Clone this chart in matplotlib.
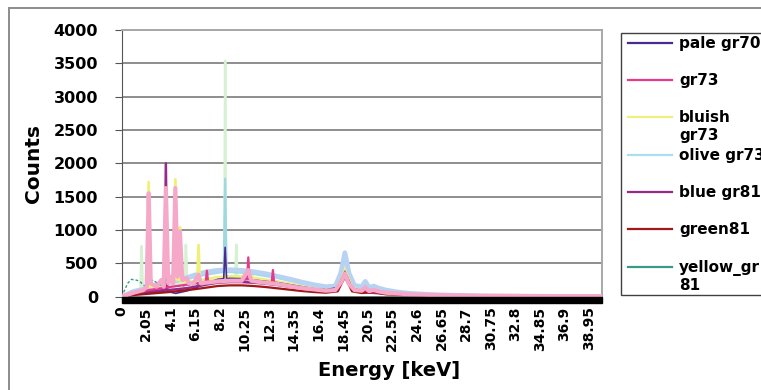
import matplotlib
matplotlib.use('Agg')
from matplotlib import pyplot as plt
from matplotlib.patches import Rectangle
from matplotlib.lines import Line2D

# tick labels of the category axis
tickPos = [0, 2.05, 4.1, 6.15, 8.2, 10.25, 12.3, 14.35, 16.4, 18.45, 20.5,
           22.55, 24.6, 26.65, 28.7, 30.75, 32.8, 34.85, 36.9, 38.95]
tickLabels = ['0', '2.05', '4.1', '6.15', '8.2', '10.25', '12.3', '14.35', '16.4', '18.45',
              '20.5', '22.55', '24.6', '26.65', '28.7', '30.75', '32.8', '34.85', '36.9', '38.95']

# pale gr70
e_pale = [0, 1, 2, 3, 3.6, 3.68, 3.76, 4.5, 5.5, 6.4, 7, 8, 8.5, 8.62, 8.74, 9, 10, 11, 12, 13, 14,
          15, 16, 17, 18, 18.6, 19.2, 20, 22, 24, 26, 30, 35, 40]
c_pale = [0, 40, 60, 70, 80, 520, 80, 50, 90, 150, 200, 260, 270, 740, 270, 275, 270, 250, 230,
          210, 180, 150, 120, 100, 140, 380, 130, 90, 60, 35, 20, 10, 5, 3]

# gr73
e_gr73 = [0, 1, 2, 3, 5, 7, 7.1, 7.2, 8, 9, 10, 10.45, 10.55, 10.65, 11, 12, 12.5, 12.6, 12.7,
          13, 14, 15, 16, 17, 18, 18.6, 19.2, 20, 22, 25, 30, 40]
c_gr73 = [0, 50, 90, 120, 170, 220, 390, 220, 240, 250, 250, 260, 590, 260, 240, 220, 210, 400,
          210, 190, 160, 130, 110, 90, 110, 340, 110, 80, 50, 25, 12, 6]

# bluish gr73
e_bluish = [0, 1, 2, 2.12, 2.25, 2.38, 3, 4.0, 4.35, 4.47, 4.59, 4.74, 4.85, 4.96, 5.5, 6.0, 6.3,
            6.4, 6.5, 7, 8, 9, 10, 10.55, 11, 12, 13, 14, 15, 16, 17, 18, 18.6, 19.2, 20, 22, 25, 30, 40]
c_bluish = [0, 50, 100, 150, 1720, 150, 130, 200, 250, 1760, 260, 250, 1040, 230, 220, 230, 240,
            775, 240, 260, 290, 300, 300, 350, 280, 250, 220, 190, 150, 120, 100, 120, 400, 140,
            80, 50, 25, 10, 5]

# olive gr73
e_olive = [0, 1, 2, 2.12, 2.25, 2.38, 3, 4, 5, 6, 7, 8, 8.5, 8.62, 8.74, 9, 10, 11, 12, 13, 14, 15,
           16, 17, 18, 18.6, 19.2, 20, 20.3, 20.6, 22, 24, 26, 30, 35, 40]
c_olive = [0, 70, 110, 150, 1150, 150, 160, 200, 240, 290, 330, 360, 370, 1770, 370, 370, 360,
           340, 310, 280, 240, 200, 160, 130, 150, 600, 150, 130, 200, 120, 80, 45, 28, 12, 6, 3]

# blue gr81
e_blue = [0, 1, 2, 3, 3.56, 3.68, 3.8, 4.5, 5.5, 6.4, 7, 8, 9, 10, 11, 12, 13, 14, 15, 16, 17, 18,
          18.6, 19.2, 20, 22, 25, 30, 40]
c_blue = [0, 40, 70, 90, 100, 2000, 100, 110, 130, 160, 180, 210, 220, 220, 210, 195, 175, 150,
          125, 105, 85, 100, 330, 100, 70, 45, 22, 10, 5]

# green81
e_green81 = [0, 1, 2, 3, 4, 5, 6, 7, 8, 9, 10, 11, 12, 13, 14, 15, 16, 17, 18, 18.6, 19.2, 20,
             21, 22, 25, 30, 40]
c_green81 = [0, 25, 40, 55, 70, 90, 110, 135, 160, 170, 170, 160, 145, 125, 105, 85, 70, 60, 80,
             300, 80, 55, 70, 35, 18, 8, 4]

# yellow_gr81
e_ygr = [0, 0.3, 0.5, 0.8, 1.2, 1.5, 1.8, 2.0, 2.6, 3.0, 3.4, 4, 5, 6, 7, 8, 9, 10, 12, 14, 16,
         18, 18.6, 19.2, 20, 22, 25, 30, 40]
c_ygr = [0, 120, 200, 260, 250, 230, 180, 150, 250, 200, 160, 150, 160, 180, 200, 220, 230, 230,
         210, 170, 120, 110, 280, 110, 70, 45, 22, 10, 5]

# unlabelled series
e_lgreen = [0, 1, 1.56, 1.66, 1.76, 2, 3, 4, 5.25, 5.35, 5.45, 6, 7, 8, 8.55, 8.62, 8.69, 9, 9.47,
            9.55, 9.63, 10, 12, 14, 16, 18, 18.6, 19.2, 20, 22, 25, 30, 40]
c_lgreen = [0, 60, 90, 760, 100, 110, 140, 170, 200, 780, 210, 230, 260, 290, 300, 3540, 300, 310,
            310, 780, 310, 300, 260, 200, 140, 130, 500, 130, 100, 60, 30, 12, 5]

e_lblue = [0, 0.5, 1, 2, 3, 4, 5, 6, 7, 8, 9, 10, 11, 12, 13, 14, 15, 16, 17, 17.8, 18.25, 18.6,
           18.95, 19.4, 20.0, 20.3, 20.6, 21.0, 21.4, 22, 23, 24, 26, 28, 30, 35, 40]
c_lblue = [0, 40, 80, 120, 180, 220, 260, 320, 370, 395, 405, 395, 375, 345, 305, 265, 220, 180,
           150, 160, 350, 660, 350, 170, 150, 230, 140, 160, 130, 100, 70, 50, 30, 20, 10, 5, 3]

e_lpink = [0, 1, 1.8, 2.08, 2.25, 2.42, 2.9, 3.3, 3.5, 3.68, 3.88, 4.1, 4.28, 4.47, 4.66, 4.85, 5.05,
           5.4, 5.6, 6.0, 6.4, 6.6, 7, 8, 9, 10, 10.55, 10.8, 11.5, 13, 14, 15, 16, 17, 17.8, 18.3,
           18.6, 18.9, 19.4, 20.0, 20.3, 20.6, 21.0, 21.4, 22, 24, 26, 30, 35, 40]
c_lpink = [0, 60, 100, 150, 1550, 200, 150, 250, 150, 1630, 200, 300, 200, 1630, 300, 980, 250, 280,
           200, 200, 330, 200, 210, 230, 240, 240, 400, 240, 220, 190, 160, 130, 110, 90, 100, 220,
           350, 200, 100, 90, 140, 85, 100, 80, 60, 35, 25, 15, 10, 8]

if __name__ == '__main__':
    plt.rcParams['font.family'] = 'DejaVu Sans'
    plt.rcParams['font.weight'] = 'bold'

    fig = plt.figure(figsize=(7.61, 3.90), dpi=100)
    ax = fig.add_axes([121.7 / 761, 1 - 296.7 / 390, 480 / 761, 266.7 / 390])

    ax.plot(e_lgreen, c_lgreen, color='#d6f0d2', lw=1.8, zorder=2)
    ax.plot(e_olive, c_olive, color='#9ed8e0', lw=1.6, zorder=3)
    ax.plot(e_lblue, c_lblue, color='#b8d2f2', lw=3.4, zorder=3)
    ax.plot(e_bluish, c_bluish, color='#eef07a', lw=2.0, zorder=4)
    ax.plot(e_pale, c_pale, color='#4a2a90', lw=1.2, zorder=4)
    ax.plot(e_ygr, c_ygr, color='#3a9a8a', lw=1.0, ls=(0, (2, 1.5)), zorder=4)
    ax.plot(e_blue, c_blue, color='#962a8a', lw=1.8, zorder=5)
    ax.plot(e_gr73, c_gr73, color='#e8388a', lw=1.6, zorder=5)
    ax.plot(e_lpink, c_lpink, color='#f5a8c8', lw=3.0, zorder=6)
    ax.plot(e_green81, c_green81, color='#a01818', lw=1.6, zorder=5)

    ax.set_xlim(0, 40)
    ax.set_ylim(0, 4000)
    ax.set_yticks(range(0, 4001, 500))
    ax.set_xticks(tickPos)
    ax.set_xticklabels(tickLabels, rotation=90, fontsize=10, fontweight='bold')
    ax.tick_params(axis='x', length=0, pad=7)
    ax.tick_params(axis='y', length=5, pad=12, labelsize=11.5, color='#555555')
    ax.grid(axis='y', color='#7a7a7a', lw=1.2)
    ax.set_axisbelow(True)
    for side in ['top', 'right']:
        ax.spines[side].set_color('#a8a8a8')
        ax.spines[side].set_linewidth(1.4)
    ax.spines['left'].set_color('#555555')
    ax.spines['bottom'].set_visible(False)

    # dense category tick marks look like a black band
    ax.add_patch(Rectangle((0, -6 / 266.7), 1, 6 / 266.7, transform=ax.transAxes,
                           color='black', clip_on=False, zorder=7))

    fig.text(33 / 761, 1 - 163 / 390, 'Counts', rotation=90, ha='center', va='center',
             fontsize=14.5, fontweight='bold')
    fig.text(389 / 761, 1 - 371 / 390, 'Energy [keV]', ha='center', va='center',
             fontsize=14, fontweight='bold')

    # outer chart frame
    fig.add_artist(Rectangle((9 / 761, -0.1), 1.2, 1 - 8 / 390 + 0.1, transform=fig.transFigure,
                             fill=False, edgecolor='#8c8c8c', lw=1.4))

    # legend drawn by hand (clipped by the image edge like the original)
    names = ['pale gr70', 'gr73', 'bluish\ngr73', 'olive gr73', 'blue gr81', 'green81', 'yellow_gr\n81']
    colors = ['#4a2a90', '#e8388a', '#eef07a', '#a8e0f0', '#962a8a', '#a01818', '#3a9a8a']
    fig.add_artist(Rectangle((621 / 761, 1 - 295 / 390), 0.5, 262 / 390, transform=fig.transFigure,
                             facecolor='white', edgecolor='#404040', lw=1.0))
    for i in range(len(names)):
        yy = 1 - (42.7 + 37.3 * i) / 390
        fig.add_artist(Line2D([628 / 761, 672 / 761], [yy, yy], transform=fig.transFigure,
                              color=colors[i], lw=1.6))
        fig.text(679 / 761, yy + 7 / 390, names[i], ha='left', va='top', fontsize=11,
                 fontweight='bold', linespacing=1.25)

    fig.savefig('out.png', dpi=100)
